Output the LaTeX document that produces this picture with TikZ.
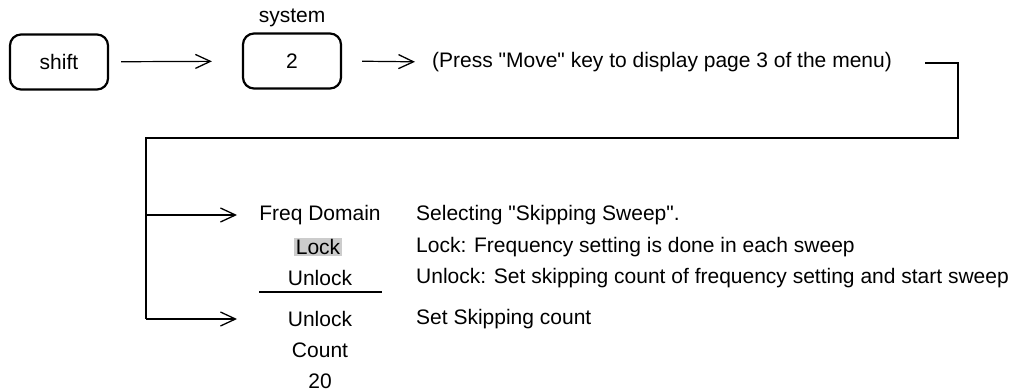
\documentclass[tikz,border=0pt]{standalone}
\usepackage{fontspec}
\newfontfamily\diagfont{Liberation Sans}
\usetikzlibrary{arrows.meta}
\begin{document}
\begin{tikzpicture}[x=1pt,y=-1pt,
  every node/.style={font=\diagfont\fontsize{21}{25}\selectfont, inner sep=0pt},
  keybox/.style={draw, line width=2.2pt, rounded corners=11pt, minimum width=98pt, minimum height=55pt},
  arr/.style={line width=1.2pt, -{Straight Barb[length=15pt,width=14pt,line width=1.3pt]}},
  conn/.style={line width=1.6pt},
  lbl/.style={anchor=west}]
\useasboundingbox (0,0) rectangle (1016,391);
% top row
\node[keybox] (shift) at (59,62) {shift};
\node[keybox] (two) at (292,61) {2};
\node (sys) at (292,18) {system};
\node[lbl] (press) at (432,62) {(Press "Move" key to display page 3 of the menu)};
\draw[arr, shorten <=12pt, shorten >=30pt] (shift) -- (two);
\draw[arr, shorten <=20pt, shorten >=17pt] (two.east) -- (press.west);
% bracket
\coordinate (b1) at (925,63);
\coordinate (b2) at (958,63);
\coordinate (b3) at (958,138);
\coordinate (b4) at (146,138);
\coordinate (b5) at (146,319);
\coordinate (j1) at (146,215);
\draw[conn] (b1) -- (b2) -- (b3) -- (b4) -- (b5);
% left column
\node (freq) at (320,215) {Freq Domain};
\node[fill=gray!40, inner sep=1.5pt] (lock) at (318,247) {Lock};
\node (unlock) at (320,278) {Unlock};
\coordinate (r1) at (259,292);
\coordinate (r2) at (382,292);
\draw[conn] (r1) -- (r2);
\node (unlock2) at (320,319) {Unlock};
\node (count) at (320,350) {Count};
\node (twenty) at (320,381) {20};
\coordinate (t1) at (237,215);
\coordinate (t2) at (237,319);
\draw[arr] (j1) -- (t1);
\draw[arr] (b5) -- (t2);
% descriptions
\node[lbl] (d1) at (416,215) {Selecting "Skipping Sweep".};
\node[lbl] (d2) at (416,247) {Lock: Frequency setting is done in each sweep};
\node[lbl] (d3) at (416,278) {Unlock: Set skipping count of frequency setting and start sweep};
\node[lbl] (d4) at (416,319) {Set Skipping count};
\end{tikzpicture}
\end{document}
